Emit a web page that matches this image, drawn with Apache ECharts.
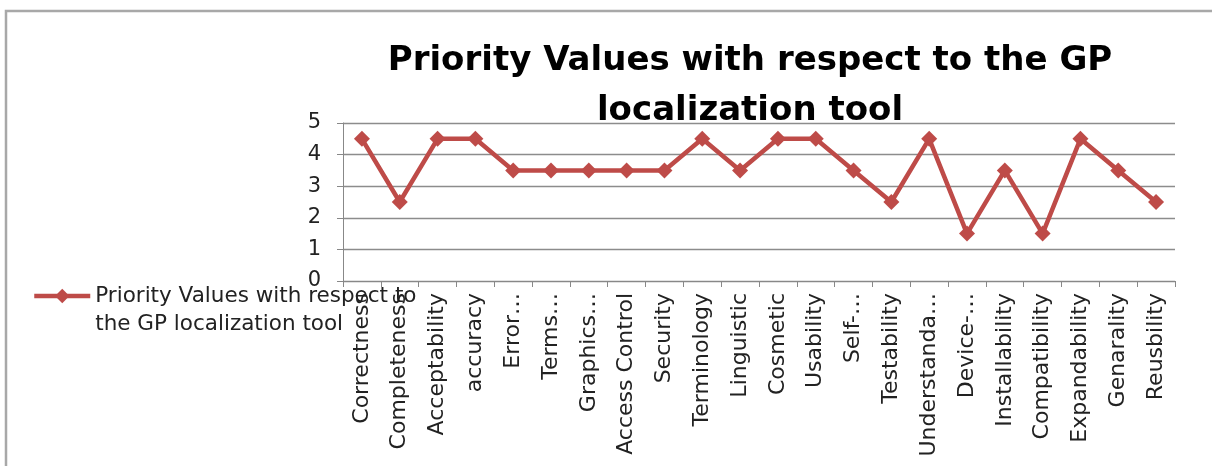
<!DOCTYPE html>
<html>
<head>
<meta charset="utf-8">
<script src="https://cdn.jsdelivr.net/npm/echarts@6/dist/echarts.min.js"></script>
<style>html,body{margin:0;padding:0;background:#fff}#c{width:1212px;height:466px}</style>
</head>
<body>
<div id="c"></div>
<script>
const titleText = 'Priority Values with respect to the GP\nlocalization tool';
const seriesName = 'Priority Values with respect to the GP localization tool';
const legendText = ' \nPriority Values with respect to\nthe GP localization tool';
const categories = ['Correctness','Completeness','Acceptability','accuracy','Error…','Terms…','Graphics…','Access Control','Security','Terminology','Linguistic','Cosmetic','Usability','Self-…','Testability','Understanda…','Device-…','Installability','Compatibility','Expandability','Genarality','Reusbility'];
const values = [4.5,2.5,4.5,4.5,3.5,3.5,3.5,3.5,3.5,4.5,3.5,4.5,4.5,3.5,2.5,4.5,1.5,3.5,1.5,4.5,3.5,2.5];
const yTicks = [0,1,2,3,4,5];

const chart = echarts.init(document.getElementById('c'), null, {renderer:'canvas'});
const red = '#be4b48';
const font = 'DejaVu Sans';
chart.setOption({
  animation: false,
  backgroundColor: '#ffffff',
  graphic: [{type:'rect', shape:{x:6, y:11, width:1400, height:700}, style:{fill:'none', stroke:'#a8a8a8', lineWidth:2.5}, z:-1}],
  title: {
    text: titleText,
    left: 745, top: 31, textAlign: 'center',
    textStyle: {fontFamily: 'DejaVu Sans', fontWeight: 'bold', fontSize: 34, lineHeight: 50, color: '#000'}
  },
  legend: {
    left: 32, top: 254, padding: 0, orient: 'vertical',
    itemWidth: 56, itemHeight: 18,
    lineStyle: {width: 4.5},
    formatter: () => legendText,
    textStyle: {fontFamily: font, fontSize: 21.5, lineHeight: 28, color: '#222'},
    data: [seriesName]
  },
  grid: {left: 343, right: 37, top: 123, bottom: 185, containLabel: false},
  xAxis: {
    type: 'category', data: categories, boundaryGap: true,
    axisLine: {lineStyle: {color: '#888', width: 1}},
    axisTick: {show: true, inside: false, length: 6, alignWithLabel: false, lineStyle: {color: '#888'}},
    axisLabel: {interval: 0, rotate: 90, margin: 12, fontFamily: font, fontSize: 22, color: '#222'}
  },
  yAxis: {
    type: 'value', min: 0, max: 5, interval: 1,
    axisLine: {show: true, lineStyle: {color: '#888', width: 1}},
    axisTick: {show: true, length: 6, lineStyle: {color: '#888'}},
    axisLabel: {margin: 22, fontFamily: font, fontSize: 21, color: '#222',
      formatter: v => yTicks.includes(v) ? String(v) : ''},
    splitLine: {show: true, lineStyle: {color: '#8c8c8c', width: 1.3}}
  },
  series: [{
    name: seriesName, type: 'line', data: values,
    symbol: 'diamond', symbolSize: 16,
    lineStyle: {color: red, width: 4.5},
    itemStyle: {color: red},
    z: 3
  }]
});
</script>
</body>
</html>
